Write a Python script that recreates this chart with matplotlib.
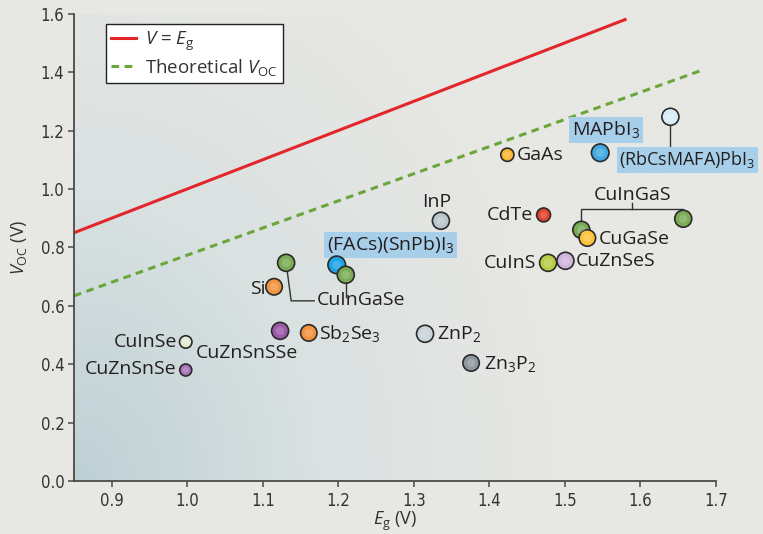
import numpy as np
import matplotlib
matplotlib.use("Agg")
import matplotlib.pyplot as plt
from matplotlib.colors import LinearSegmentedColormap
from matplotlib import font_manager

plt.rcParams['font.family'] = ['Open Sans', 'DejaVu Sans']
plt.rcParams['mathtext.fontset'] = 'custom'
plt.rcParams['mathtext.rm'] = 'Open Sans'
plt.rcParams['mathtext.it'] = 'Open Sans:italic'

# ---- data ----
materials = ['GaAs', 'MAPbI3', '(RbCsMAFA)PbI3', 'InP', 'CdTe', 'CuInGaS_a', 'CuInGaS_b',
             'CuGaSe', 'CuInS', 'CuZnSeS', '(FACs)(SnPb)I3', 'CuInGaSe_a', 'CuInGaSe_b',
             'Si', 'Sb2Se3', 'CuZnSnSSe', 'CuInSe', 'CuZnSnSe', 'ZnP2', 'Zn3P2']
eg = [1.424, 1.547, 1.640, 1.336, 1.472, 1.522, 1.657,
      1.530, 1.478, 1.501, 1.198, 1.131, 1.210,
      1.115, 1.161, 1.123, 0.998, 0.998, 1.315, 1.376]
voc = [1.117, 1.124, 1.247, 0.891, 0.911, 0.860, 0.898,
       0.832, 0.747, 0.754, 0.740, 0.747, 0.706,
       0.665, 0.507, 0.514, 0.476, 0.380, 0.504, 0.404]

line_eg = [0.85, 1.58]
line_v = [0.85, 1.58]
theo_eg = [0.85, 1.68]
theo_voc = [0.634, 1.405]

xticks = [0.9, 1.0, 1.1, 1.2, 1.3, 1.4, 1.5, 1.6, 1.7]
yticks = [0.0, 0.2, 0.4, 0.6, 0.8, 1.0, 1.2, 1.4, 1.6]

# ---- styles ----
colors = ['#fbb634', '#3fa9e0', '#d6ecf8', '#b9c5cd', '#e0432c', '#7aab55', '#7aab55',
          '#fcc33a', '#b8cc48', '#cfb5da', '#1ea3e4', '#7aab55', '#7aab55',
          '#f29340', '#f29340', '#9b5aa8', '#e2ecd2', '#a673b9', '#c9d4db', '#8e999f']
sizes = [90, 160, 150, 150, 100, 150, 150,
         140, 150, 150, 160, 150, 150,
         140, 140, 150, 80, 75, 150, 140]

# condensed font for tick labels if available
tick_font = {'family': ['Open Sans', 'DejaVu Sans']}
for f in font_manager.fontManager.ttflist:
    if f.name == 'Liberation Sans Narrow':
        tick_font = {'family': ['Liberation Sans Narrow']}
        break
else:
    for f in font_manager.fontManager.ttflist:
        if f.name == 'DejaVu Sans' and str(f.stretch) in ('condensed', '600', 'semi-condensed'):
            tick_font = {'family': ['DejaVu Sans'], 'stretch': f.stretch}
            break

BG = '#e7e7e3'
fig = plt.figure(figsize=(7.63, 5.34), dpi=100, facecolor=BG)
ax = fig.add_axes([0.097, 0.0993, 0.841, 0.875])
ax.set_facecolor(BG)
ax.set_xlim(0.85, 1.7)
ax.set_ylim(0, 1.6)

# gradient background
nx, ny = 300, 300
gx, gy = np.meshgrid(np.linspace(0, 1, nx), np.linspace(0, 1, ny))
d = np.clip(np.sqrt((gx / 0.75) ** 2 + (gy / 1.2) ** 2), 0, 1)
cmap = LinearSegmentedColormap.from_list('bg', ['#bed0d5', '#d9e1e1', BG])
ax.imshow(d, cmap=cmap, extent=[0.85, 1.7, 0, 1.6], origin='lower', aspect='auto',
          zorder=0, interpolation='bilinear')

ax.plot(line_eg, line_v, color='#e3262c', lw=2.2, zorder=2, label=r'$V$ = $E_{\mathrm{g}}$')
ax.plot(theo_eg, theo_voc, color='#6aa63a', lw=2.2, ls=(0, (2.5, 1.8)), zorder=2,
        label=r'Theoretical $V_{\mathrm{OC}}$')

# connectors
def px(dx):
    return dx / 754.0
def py(dy):
    return dy / 291.9

ix = {m: i for i, m in enumerate(materials)}
# CuInGaSe
a, b = ix['CuInGaSe_a'], ix['CuInGaSe_b']
ax.plot([eg[a], eg[a] + px(5), eg[a] + px(28)],
        [voc[a], voc[a] - py(38), voc[a] - py(38)], color='#333333', lw=1, zorder=3)
ax.plot([eg[b], eg[b]], [voc[b], voc[b] - py(22)], color='#333333', lw=1, zorder=3)
# CuInGaS bracket
a, b = ix['CuInGaS_a'], ix['CuInGaS_b']
ybr = voc[b] + py(10)
ax.plot([eg[a], eg[a], eg[b], eg[b]], [voc[a], ybr, ybr, voc[b]], color='#333333', lw=1, zorder=3)
xm = (eg[a] + eg[b]) / 2
ax.plot([xm, xm], [ybr, ybr + py(6)], color='#333333', lw=1, zorder=3)
# RbCs
r = ix['(RbCsMAFA)PbI3']
ax.plot([eg[r], eg[r]], [voc[r], voc[r] - py(34)], color='#333333', lw=1, zorder=3)

ax.scatter(eg, voc, s=sizes, c=colors, edgecolors='#2a2a2a', linewidths=1.2, zorder=5)
# subtle highlight for sphere look
ax.scatter(eg, voc, s=[v * 0.25 for v in sizes], c='white', alpha=0.18, linewidths=0,
           zorder=6)

# labels: (material key, text, dx px, dy px, ha, boxed, fontsize)
labels = [
    ('GaAs', 'GaAs', 9, 0, 'left', False, 14),
    ('MAPbI3', r'MAPbI$_3$', 6, 23, 'center', True, 14),
    ('(RbCsMAFA)PbI3', r'(RbCsMAFA)PbI$_3$', -51, -43, 'left', True, 13),
    ('InP', 'InP', -4, 19, 'center', False, 14),
    ('CdTe', 'CdTe', -11, 0, 'right', False, 14),
    ('CuInGaS_a', 'CuInGaS', 0, 35, 'center', False, 14),
    ('CuGaSe', 'CuGaSe', 11, -1, 'left', False, 14),
    ('CuInS', 'CuInS', -12, 0, 'right', False, 14),
    ('CuZnSeS', 'CuZnSeS', 10, 0, 'left', False, 14),
    ('(FACs)(SnPb)I3', r'(FACs)(SnPb)I$_3$', -10, 20, 'left', True, 14),
    ('CuInGaSe_a', 'CuInGaSe', 31, -37, 'left', False, 14),
    ('Si', 'Si', -9, -2, 'right', False, 14),
    ('Sb2Se3', r'Sb$_2$Se$_3$', 10, -1, 'left', False, 14),
    ('CuZnSnSSe', 'CuZnSnSSe', -84, -22, 'left', False, 14),
    ('CuInSe', 'CuInSe', -9, 0, 'right', False, 14),
    ('CuZnSnSe', 'CuZnSnSe', -9, 1, 'right', False, 14),
    ('ZnP2', r'ZnP$_2$', 12, 0, 'left', False, 14),
    ('Zn3P2', r'Zn$_3$P$_2$', 13, -1, 'left', False, 14),
]
for key, txt, dx, dy, ha, boxed, fs in labels:
    i = ix[key]
    x0 = eg[i]
    if key == 'CuInGaS_a':
        x0 = (eg[ix['CuInGaS_a']] + eg[ix['CuInGaS_b']]) / 2
    kw = {}
    if boxed:
        kw['bbox'] = dict(boxstyle='square,pad=0.14', fc='#a8cfe9', ec='none')
    ax.annotate(txt, (x0, voc[i]), xytext=(dx, dy), textcoords='offset pixels',
                ha=ha, va='center', fontsize=fs, color='#231f20', zorder=4,
                annotation_clip=False, **kw)

# axes styling
for s in ['top', 'right']:
    ax.spines[s].set_visible(False)
for s in ['left', 'bottom']:
    ax.spines[s].set_color('#4a4a4a')
    ax.spines[s].set_linewidth(1.3)
ax.set_xticks(xticks)
ax.set_yticks(yticks)
ax.set_xticklabels([f'{v:.1f}' for v in xticks])
ax.set_yticklabels([f'{v:.1f}' for v in yticks])
ax.tick_params(direction='out', length=4, width=1.1, color='#4a4a4a', labelsize=12,
               labelcolor='#333333', pad=3)
for lab in ax.get_xticklabels() + ax.get_yticklabels():
    lab.set_family(tick_font['family'])
    if 'stretch' in tick_font:
        lab.set_fontstretch(tick_font['stretch'])
ax.xaxis.set_tick_params(pad=4)

ax.set_xlabel(r'$E_{\mathrm{g}}$ (V)', fontsize=13, color='#333333', labelpad=0)
ax.set_ylabel(r'$V_{\mathrm{OC}}$ (V)', fontsize=13, color='#333333', labelpad=8)

leg = ax.legend(loc='upper left', bbox_to_anchor=(0.035, 0.998), fontsize=13.5,
                frameon=True, fancybox=False, edgecolor='#222222', facecolor='white',
                framealpha=1, handlelength=1.3, handletextpad=0.5, borderpad=0.3,
                labelspacing=0.2)
leg.get_frame().set_linewidth(1.0)
for t in leg.get_texts():
    t.set_color('#333333')

fig.savefig('out.png', dpi=100, facecolor=BG)
